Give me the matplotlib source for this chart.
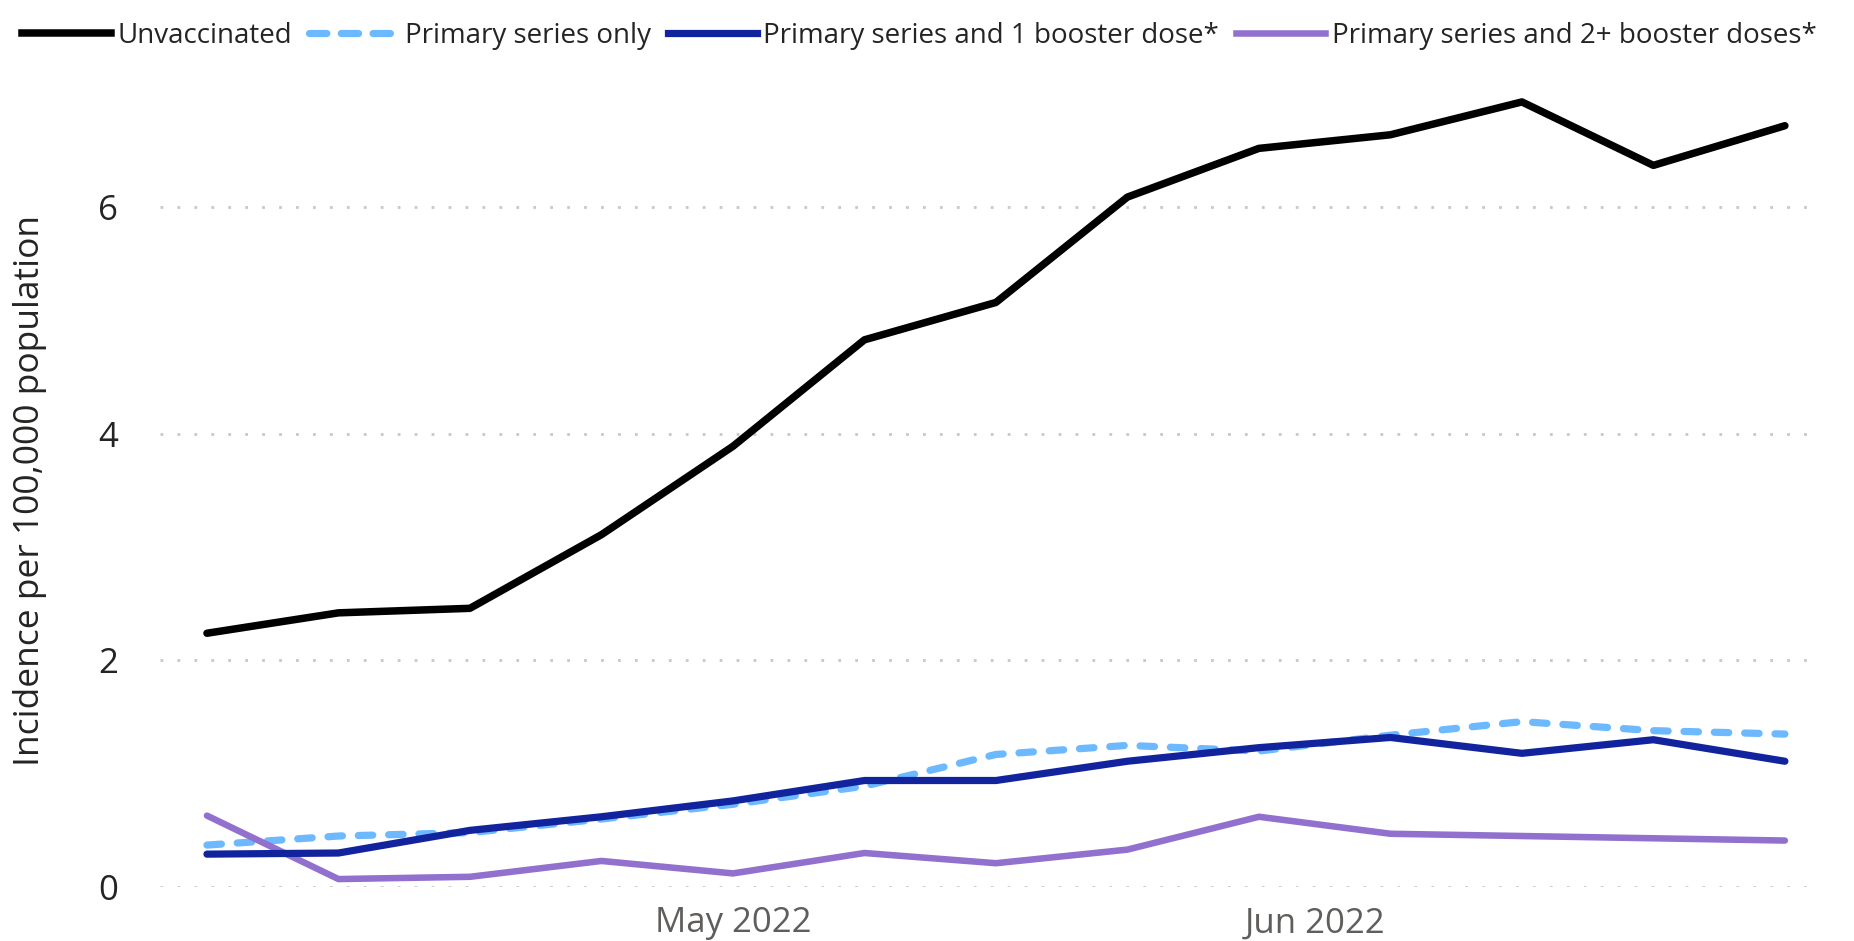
import matplotlib
matplotlib.use("Agg")
import matplotlib.pyplot as plt
from matplotlib.lines import Line2D
import numpy as np
import pandas as pd

plt.rcParams['font.family'] = ['Open Sans', 'DejaVu Sans']

dates = pd.date_range("2022-04-03", periods=13, freq="7D")
unvaccinated = [2.24, 2.42, 2.46, 3.11, 3.89, 4.83, 5.16, 6.09, 6.52, 6.64, 6.93, 6.37, 6.72]
primary_only = [0.37, 0.45, 0.48, 0.60, 0.73, 0.89, 1.17, 1.25, 1.20, 1.34, 1.46, 1.38, 1.35]
one_booster = [0.29, 0.30, 0.50, 0.62, 0.76, 0.94, 0.94, 1.11, 1.23, 1.32, 1.18, 1.30, 1.11]
two_booster = [0.63, 0.07, 0.09, 0.23, 0.12, 0.30, 0.21, 0.33, 0.62, 0.47, 0.45, 0.43, 0.41]

labels = ["Unvaccinated", "Primary series only",
          "Primary series and 1 booster dose*", "Primary series and 2+ booster doses*"]
colors = ["#000000", "#6CB9FF", "#12239E", "#9170CE"]
yticks = [0, 2, 4, 6]
xtick_dates = [pd.Timestamp("2022-05-01"), pd.Timestamp("2022-06-01")]
xtick_labels = ["May 2022", "Jun 2022"]

W, H = 1854, 941
fig = plt.figure(figsize=(W / 100, H / 100), dpi=100)
ax = fig.add_axes([160 / W, (H - 887) / H, (1814 - 160) / W, (887 - 94) / H])

series = [unvaccinated, primary_only, one_booster, two_booster]
widths = [5.4, 5.2, 5.2, 4.7]
handles = []
for i, (vals, lab, col) in enumerate(zip(series, labels, colors)):
    if i == 1:
        ax.plot(dates, vals, color=col, lw=widths[i], dashes=(2.0, 2.2),
                dash_capstyle='round', clip_on=False, zorder=3)
        handles.append(Line2D([], [], color=col, lw=widths[i], dashes=(2.4, 2.0),
                              dash_capstyle='round'))
    else:
        ax.plot(dates, vals, color=col, lw=widths[i], solid_capstyle='round',
                solid_joinstyle='round', clip_on=False, zorder=4 if i == 2 else 3)
        handles.append(Line2D([], [], color=col, lw=widths[i]))

ax.set_ylim(0, 7)
ax.set_xlim(dates[0] - pd.Timedelta(days=2.5), dates[-1] + pd.Timedelta(days=1.55))
ax.set_yticks(yticks)
ax.set_yticklabels([str(v) for v in yticks])
ax.set_xticks(xtick_dates)
ax.set_xticklabels(xtick_labels)
ax.tick_params(axis='both', length=0, labelsize=25, colors='#605E5C')
ax.tick_params(axis='y', pad=30, labelcolor='#252423')
ax.tick_params(axis='x', pad=14)
for s in ax.spines.values():
    s.set_visible(False)
ax.grid(axis='y', color='#C8C8C8', lw=2, linestyle=(0, (1, 5.1)))
ax.set_axisbelow(True)

fig.text(30 / W, 1 - 490 / H, "Incidence per 100,000 population", rotation=90,
         ha='center', va='center', fontsize=25.5, color='#252423')

leg = fig.legend(handles, labels, loc='center left', bbox_to_anchor=(22 / W, 1 - 36 / H),
                 ncol=4, frameon=False, fontsize=20, handlelength=3.2,
                 handletextpad=0.25, columnspacing=0.6, borderpad=0, borderaxespad=0)
for t in leg.get_texts():
    t.set_color('#252423')

fig.savefig("out.png", dpi=100)
